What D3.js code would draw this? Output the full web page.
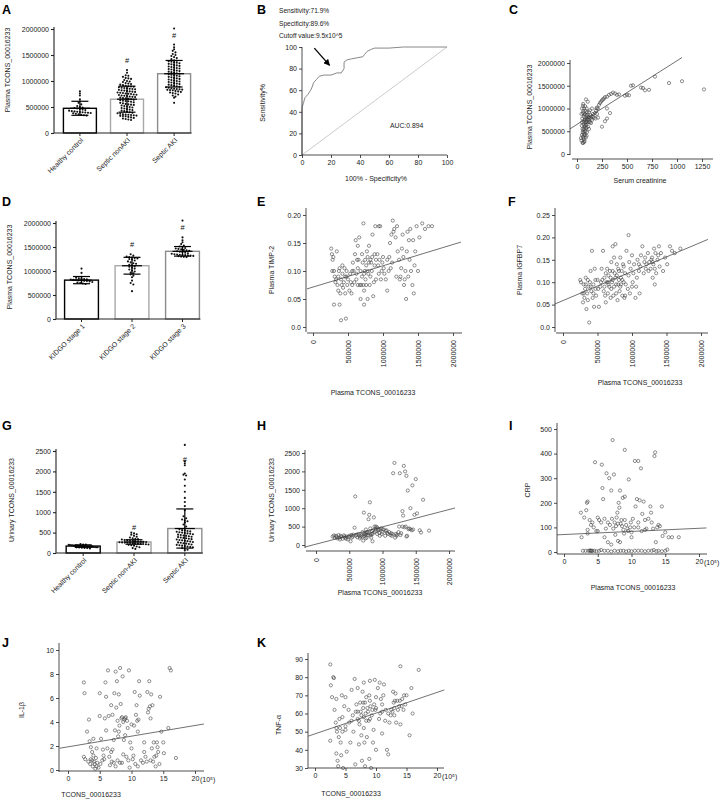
<!DOCTYPE html>
<meta charset="utf-8">
<script src="https://d3js.org/d3.v7.min.js"></script>
<style>
  body { margin: 0; background: #fff; }
  svg text { font-family: "Liberation Sans", Arial, sans-serif; }
</style>
<div id="fig"></div>
<script>
// ---------- data (thousands where noted) ----------
// A: plasma TCONS by group (thousands)
var aGroups = ["Healthy control", "Septic nonAKI", "Septic AKI"];
var aHC = [800,760,720,650,610,580,550,520,500,490,480,470,460,450,440,430,420,415,410,405,400,395,390,385,380,370,360,350,340,335];
var aNon = [1210,1160,1110,1100,1080,1060,1050,1040,1020,1000,990,980,960,950,940,930,920,910,900,895,890,880,870,865,860,850,845,840,830,820,815,810,800,795,790,780,775,770,760,755,750,740,735,730,720,715,710,700,695,690,680,670,665,660,650,640,630,620,615,610,600,590,580,570,560,550,545,540,530,520,510,500,490,480,470,460,450,440,430,420,410,400,390,380,370,360,355,350,345,340,335,330,325,320,310,300,290,280,270,260,250];
var aAKI = [2010,1700,1650,1610,1580,1550,1520,1500,1480,1460,1440,1420,1400,1390,1380,1370,1360,1350,1340,1330,1320,1310,1300,1290,1280,1270,1260,1250,1240,1230,1220,1210,1200,1190,1180,1170,1160,1150,1140,1130,1120,1110,1100,1090,1080,1070,1060,1050,1040,1030,1020,1010,1000,990,980,970,960,950,940,930,920,910,900,890,880,870,860,850,845,840,835,830,825,820,810,800,790,780,770,760,740,720,700,680,580];
var aMean = [475, 650, 1140];
var aSD = [135, 250, 255];
var aHash = [null, 1400, 1870];

// B: ROC curve (%)
var rocX = [0,0,1,2,4,6,7,8,10,12,15,20,24,27,29,29,31,34,38,42,43,45,48,50,60,70,100];
var rocY = [0,44,48,53,56,60,63,67,70,73,74,74,76,76,80,86,88,89,90,91,93,96,98,99,99,100,100];

// C: serum creatinine vs plasma TCONS (thousands)
var cPts = [[40,350],[45,300],[50,420],[50,700],[55,250],[55,550],[60,900],[60,380],[62,1100],[65,650],[65,450],[68,820],[70,320],[70,1000],[72,550],[75,750],[75,280],[78,880],[80,420],[80,620],[82,1050],[85,950],[85,500],[88,360],[90,700],[90,1200],[92,850],[95,580],[95,400],[98,780],[100,920],[100,480],[105,700],[108,1150],[110,600],[110,820],[115,750],[120,550],[125,800],[130,700],[135,850],[140,780],[150,750],[160,820],[170,800],[180,900],[185,780],[190,950],[195,1000],[200,1020],[210,1000],[220,1080],[230,1120],[240,1150],[250,1180],[260,1200],[270,1220],[280,1250],[300,1260],[320,1300],[340,1320],[360,1350],[380,1330],[400,1300],[420,1310],[480,1280],[500,1300],[520,1290],[540,1500],[560,1510],[640,1460],[660,1450],[680,1400],[720,1410],[780,1700],[920,1560],[1050,1600],[1270,1420],[250,600],[280,720],[300,780],[330,900],[300,1000],[50,1000],[60,1060],[45,880],[120,920],[130,960],[150,1000],[60,240],[70,260],[58,480],[62,520],[75,600],[85,680],[95,720],[105,760],[115,800],[210,800],[160,880],[140,680],[200,880],[48,620],[52,780],[66,350],[72,420],[78,500],[88,580],[92,640],[68,700],[80,760],[74,860],[64,940],[96,1000],[102,860],[120,700],[145,820]];
var cFit = [650, 1.4, -70, 1050];   // intercept, slope, x from, x to

// D: plasma TCONS by KDIGO stage (thousands)
var dGroups = ["KIDGO stage 1", "KIDGO stage 2", "KIDGO stage 3"];
var dS1 = [1050,960,880,860,850,840,830,825,820,815,810,805,800,795,790,780,770,760,750,740,730];
var dS2 = [1350,1320,1300,1290,1280,1270,1260,1250,1240,1220,1200,1180,1160,1150,1130,1120,1100,1090,1070,1050,1030,1010,990,970,950,930,900,870,800,750,720,580];
var dS3 = [2050,1700,1640,1600,1560,1530,1510,1500,1480,1470,1460,1450,1440,1430,1420,1410,1400,1390,1380,1370,1360,1350,1345,1340,1335,1330,1325,1320,1315,1310,1300,1295,1290];
var dMean = [810, 1110, 1410];
var dSD = [75, 175, 100];
var dHash = [null, 1560, 1900];

// E: plasma TCONS (thousands) vs TIMP-2
var ePts = [[260,0.14],[270,0.13],[280,0.12],[290,0.125],[275,0.10],[300,0.04],[310,0.09],[330,0.085],[340,0.135],[350,0.075],[360,0.065],[370,0.1],[380,0.105],[380,0.04],[390,0.06],[400,0.085],[400,0.012],[410,0.075],[420,0.095],[430,0.07],[440,0.08],[450,0.105],[460,0.06],[470,0.015],[480,0.09],[490,0.075],[500,0.085],[520,0.065],[540,0.08],[560,0.075],[580,0.1],[600,0.13],[610,0.155],[620,0.085],[640,0.145],[650,0.12],[660,0.16],[670,0.075],[680,0.05],[700,0.13],[710,0.115],[720,0.185],[730,0.065],[730,0.04],[740,0.1],[750,0.085],[760,0.11],[770,0.135],[780,0.125],[790,0.095],[800,0.145],[810,0.075],[820,0.12],[830,0.115],[840,0.1],[850,0.165],[860,0.055],[870,0.08],[880,0.13],[890,0.18],[900,0.085],[920,0.13],[930,0.11],[940,0.18],[950,0.12],[960,0.18],[970,0.085],[980,0.1],[1000,0.125],[1020,0.095],[1040,0.085],[1060,0.065],[1080,0.1],[1100,0.15],[1110,0.105],[1120,0.165],[1140,0.19],[1150,0.17],[1160,0.175],[1180,0.16],[1200,0.18],[1210,0.135],[1230,0.12],[1240,0.085],[1250,0.09],[1260,0.105],[1270,0.14],[1280,0.165],[1300,0.075],[1310,0.085],[1320,0.1],[1330,0.05],[1340,0.135],[1350,0.17],[1370,0.155],[1390,0.175],[1400,0.1],[1420,0.075],[1440,0.06],[1450,0.11],[1460,0.135],[1480,0.18],[1500,0.1],[1520,0.16],[1560,0.185],[1600,0.175],[1650,0.18],[1700,0.18],[620,0.095],[700,0.09],[760,0.075],[820,0.09],[880,0.11],[990,0.115],[1090,0.125],[640,0.105],[560,0.1],[480,0.1],[300,0.1],[320,0.08],[360,0.09],[420,0.11],[460,0.09],[530,0.095],[570,0.115],[590,0.08],[630,0.12],[680,0.1],[720,0.075],[745,0.12],[780,0.1],[800,0.115],[845,0.125],[900,0.12],[940,0.095],[1010,0.105],[1060,0.12],[1130,0.115],[1190,0.09],[1290,0.125],[1360,0.09],[1380,0.12],[1430,0.155],[730,0.095],[690,0.075],[640,0.075],[550,0.06],[780,0.05]];
var eFit = [0.0713, 0.000038, -86, 2114];

// F: plasma TCONS (thousands) vs IGFBP7
var fPts = [[250,0.105],[260,0.1],[280,0.075],[290,0.055],[300,0.095],[310,0.065],[320,0.085],[330,0.11],[340,0.04],[350,0.075],[360,0.06],[370,0.09],[380,0.01],[390,0.1],[400,0.125],[410,0.08],[420,0.17],[430,0.065],[440,0.095],[450,0.045],[460,0.13],[470,0.085],[480,0.07],[500,0.105],[520,0.045],[540,0.09],[560,0.13],[570,0.105],[580,0.17],[590,0.08],[600,0.11],[620,0.055],[630,0.1],[640,0.13],[650,0.075],[660,0.115],[670,0.09],[680,0.125],[690,0.065],[700,0.145],[710,0.1],[720,0.18],[730,0.07],[740,0.155],[750,0.12],[760,0.185],[770,0.095],[780,0.14],[790,0.06],[800,0.13],[810,0.105],[820,0.08],[830,0.155],[840,0.11],[850,0.125],[860,0.07],[870,0.14],[880,0.1],[890,0.065],[900,0.12],[920,0.17],[940,0.085],[950,0.205],[960,0.145],[970,0.075],[980,0.13],[1000,0.16],[1010,0.1],[1030,0.14],[1050,0.065],[1060,0.09],[1080,0.15],[1100,0.125],[1110,0.075],[1130,0.16],[1150,0.18],[1170,0.12],[1190,0.155],[1210,0.14],[1230,0.165],[1250,0.145],[1270,0.13],[1290,0.155],[1300,0.11],[1310,0.14],[1320,0.175],[1330,0.095],[1340,0.165],[1350,0.12],[1370,0.15],[1390,0.18],[1400,0.135],[1420,0.165],[1450,0.125],[1480,0.155],[1510,0.14],[1550,0.18],[1580,0.17],[1620,0.165],[1700,0.175],[1000,0.09],[1100,0.14],[900,0.07],[800,0.095],[700,0.085],[600,0.09],[1200,0.13],[1300,0.145],[760,0.11],[840,0.095],[720,0.105],[650,0.1],[300,0.075],[330,0.095],[360,0.105],[400,0.09],[440,0.075],[470,0.105],[510,0.085],[550,0.1],[610,0.07],[660,0.095],[690,0.11],[740,0.09],[780,0.115],[810,0.125],[860,0.105],[910,0.095],[950,0.115],[1020,0.12],[1070,0.11],[1120,0.135],[1180,0.145],[1240,0.125],[1280,0.15],[1330,0.13],[1380,0.16],[620,0.12],[720,0.125],[770,0.075],[830,0.09],[880,0.135]];
var fFit = [0.059, 0.000065, -116, 2100];

// G: urinary TCONS by group
var gGroups = ["Healthy control", "Septic non-AKI", "Septic AKI"];
var gHC = [220,210,205,200,195,190,188,185,182,180,178,175,172,170,168,165,162,160,158,155,152,150,148,145,142,140,138,135,130,125,120,110];
var gNon = [500,480,460,450,420,400,380,360,350,340,330,320,310,300,295,290,285,280,275,270,265,260,255,250,245,240,235,230,225,220,215,210,200,190,180,160,140,120,100];
var gAKI = [2650,2250,2200,2150,1950,1920,1900,1800,1650,1500,1350,1250,1150,1050,900,850,820,800,780,750,700,650,600,580,560,550,540,530,520,510,500,490,480,470,460,450,440,430,420,410,400,390,380,370,360,350,340,330,320,310,300,290,280,270,260,250,240,230,220,210,200,190,180,170,160,150,140,120,100,80,60];
var gMean = [170, 270, 600];
var gSD = [30, 55, 480];
var gHash = [null, 640, 2300];

// H: plasma TCONS (thousands) vs urinary TCONS
var hPts = [[250,230],[280,200],[300,250],[320,180],[340,270],[360,150],[380,220],[400,170],[420,260],[440,200],[460,230],[480,150],[500,250],[520,100],[540,200],[560,280],[580,470],[590,1320],[600,250],[620,210],[640,300],[660,180],[680,260],[700,350],[710,120],[720,880],[730,250],[740,300],[750,420],[760,200],[770,350],[780,270],[790,700],[800,820],[810,1160],[815,450],[820,300],[830,200],[840,380],[850,100],[860,400],[870,750],[880,500],[900,450],[920,300],[940,400],[960,250],[980,450],[1000,350],[1020,420],[1040,250],[1060,400],[1080,300],[1100,350],[1120,270],[1140,250],[1160,1950],[1180,2230],[1190,200],[1200,300],[1220,280],[1240,350],[1260,1950],[1280,320],[1300,920],[1310,800],[1320,2150],[1340,2000],[1350,500],[1360,1880],[1370,250],[1380,1480],[1400,450],[1420,1000],[1440,400],[1450,1620],[1460,420],[1480,820],[1500,1790],[1520,860],[1560,400],[1580,340],[1610,1230],[1700,390],[350,200],[450,170],[550,230],[650,260],[750,280],[850,300],[950,330],[1050,380],[1150,300],[1250,500],[1300,500],[1330,480],[1360,230],[1420,430],[900,500],[920,480],[960,420],[1000,430],[700,230],[760,320],[820,260],[880,350],[270,260],[310,220],[370,250],[430,230],[490,210],[530,270],[610,280],[670,220],[720,300],[745,180],[790,330],[835,300],[895,380],[935,420],[990,300],[1070,330],[1130,320],[1210,250],[1270,270],[1390,430]];
var hFit = [23, 0.47, -165, 2090];

// I: plasma TCONS (x10^5) vs CRP
var iPts = [[2.5,160],[2.6,60],[3,140],[3.3,170],[3.4,200],[3.5,205],[3.5,75],[3.5,90],[3.8,130],[4,110],[4.2,120],[4.4,100],[4.6,365],[4.8,85],[5,140],[5.2,130],[5.5,120],[5.6,355],[5.8,215],[5.7,260],[6,135],[6.2,95],[6.3,320],[6.5,120],[6.7,300],[6.8,110],[7,250],[7.1,135],[7.2,455],[7.3,95],[7.4,315],[7.5,120],[7.6,70],[7.8,140],[8,115],[8.1,200],[8.2,180],[8.3,250],[8.5,130],[8.7,220],[8.8,90],[9,415],[9,225],[9.2,110],[9.5,85],[9.6,295],[9.8,100],[10,80],[10.2,135],[10.5,370],[10.6,185],[10.8,215],[11,100],[11,370],[11.2,210],[11.4,340],[11.5,85],[11.6,155],[11.8,205],[12.2,95],[12.5,135],[12.8,185],[12.9,160],[13,120],[13.4,390],[13.5,405],[13.6,40],[13.8,100],[14,110],[14.2,105],[14.5,185],[14.6,65],[15,80],[15.5,60],[16,60],[17,60],[6.5,40],[7,30],[8,45],[8.3,40],[6,60],[5,85],[9,130],[10,60],[11,120],[12,90],[2.8,5],[3.2,5],[3.6,5],[3.8,5],[4,5],[4.2,5],[4.5,5],[4.8,3],[5.2,5],[5.5,8],[6,5],[6.5,5],[7,2],[7.5,5],[8,3],[8.4,5],[8.8,5],[9.2,2],[9.6,5],[10,3],[10.5,5],[11,5],[11.5,5],[12,3],[12.5,5],[13,5],[13.3,8],[13.7,3],[14,5],[14.5,3],[15,5],[15.3,10],[3.9,6],[4.1,4],[7.7,105],[8.4,115],[8.9,75],[9.4,95],[7.9,160],[8.6,105],[9.9,120],[10.4,100],[12,130],[13.2,95]];
var iFit = [71, 1.27, -1.04, 21.1];

// J: TCONS (x10^5) vs IL-1beta
var jPts = [[2.5,7.3],[2.6,6.4],[2.5,1.1],[2.7,0.9],[3,3.2],[3.2,0.7],[3.3,4.2],[3.4,2.4],[3.5,0.5],[3.6,1.9],[3.8,0.8],[3.9,0.3],[4,1.2],[4.2,0.5],[4.3,0.1],[4.5,1.8],[4.6,0.6],[4.8,0.2],[5,4.5],[5,6.4],[5.2,2.6],[5.4,0.8],[5.6,1.2],[5.8,4.3],[5.9,7.3],[6,6.1],[6.2,1.8],[6.3,8.3],[6.4,4.5],[6.5,1.1],[6.6,0.4],[6.8,5.4],[7,4.6],[7,1.7],[7.2,0.6],[7.3,6.4],[7.4,3.3],[7.5,8.2],[7.6,5.2],[7.7,7.4],[7.8,0.8],[7.9,2.8],[8,6.3],[8.1,3.7],[8.2,8.5],[8.2,0.6],[8.3,5.5],[8.5,4.4],[8.6,7.8],[8.7,1.3],[8.8,2.5],[8.9,4.2],[9,2.9],[9.2,1.1],[9.4,3.5],[9.6,8.3],[9.7,0.2],[9.8,2.3],[10,1.8],[10.2,0.9],[10.4,3.7],[10.5,6.5],[10.7,4.6],[10.8,5.4],[10.9,4.1],[11,3.2],[11.2,7.4],[11.3,6.2],[11.5,0.8],[11.8,0.6],[12,2.3],[12.2,1.1],[12.5,6.5],[12.6,4.8],[12.8,7.4],[12.9,5.3],[13,4.3],[13.1,6.3],[13.2,1.8],[13.4,0.7],[13.6,1.1],[13.8,0.3],[14,2.3],[14.2,1.5],[14.4,0.5],[14.5,6.1],[14.7,3.2],[15,2.3],[15.1,1.4],[15.8,3.5],[16,8.5],[16.2,8.3],[17,1],[5.5,1.7],[6.8,1.5],[7.5,0.3],[8.5,0.6],[9.5,0.8],[11,0.3],[12,1.5],[13,0.8],[4.5,0.3],[3.8,1.5],[7.2,2.5],[8,3.2],[9,4.3],[10,3.8],[6,3.3],[4,2.6],[3.6,0.9],[4.1,0.7],[4.4,1],[5.1,0.5],[5.7,0.9],[6.9,0.7],[7.8,4.1],[8.4,4.3],[8.7,4],[9.1,4.4],[9.3,4.1],[10.3,1.2],[11.1,4.2],[12.7,5.1],[13.3,5.4],[13.5,2.3],[14.1,1.9],[13.9,1.2],[12.4,0.7],[10.6,0.5]];
var jFit = [1.93, 0.089, -1.31, 21.4];

// K: TCONS (x10^5) vs TNF-alpha
var kPts = [[2.5,87],[2.6,75.5],[2.5,45],[2.8,69],[3,80],[3.1,79.5],[3.2,62],[3.5,68],[3.4,55],[3.6,50],[3.5,38],[3.7,34],[3.8,31],[3.9,47],[4,57],[4.1,52],[4.2,44],[4.3,37],[4.4,70],[4.5,58],[4.6,30],[4.8,64],[5,51],[5,69],[5.2,39],[5.5,62],[5.6,55],[5.8,44],[6,73],[6.2,59],[6.3,50],[6.5,79],[6.6,32],[6.8,65],[7,57],[7,74],[7.2,43],[7.3,54],[7.5,61],[7.6,48],[7.7,34],[7.8,72],[7.9,66],[8,52],[8,77],[8.1,44],[8.2,31],[8.3,60],[8.4,69],[8.5,47],[8.6,63],[8.8,56],[8.9,35],[9,67],[9,78],[9.2,30],[9.3,59],[9.5,44],[9.6,51],[9.8,78.5],[9.9,62],[10,69],[10,40],[10.3,74],[10.5,57],[10.6,77],[10.8,68],[11,49],[11,61],[11.2,70],[11.3,76],[11.5,56],[11.8,40],[12,37.5],[12.2,55],[12.5,62],[12.8,72],[12.9,66],[13,59],[13.2,71],[13.3,55],[13.5,67],[13.8,64],[14,54],[14,86],[14.3,68],[14.5,62],[14.6,70],[14.8,65],[15,70],[15.5,48],[15.8,74],[16,60],[17,84],[6,56],[7,61],[8,58],[9,57],[10,63],[11,65],[12,60],[13,63],[5,53],[4.5,50],[3.5,52],[7.4,66],[7.6,59],[7.9,63],[8.2,66],[8.7,61],[9.1,64],[9.4,62],[8.4,56],[7.2,56],[6.7,61],[12.4,59],[12.7,61],[13.1,67],[13.6,62],[13.9,67],[14.2,64],[11.6,62],[10.7,60],[9.7,65],[8.9,70]];
var kFit = [48.8, 1.14, -1.1, 21.2];

// ---------- drawing ----------
var FONT = "Liberation Sans, Arial, sans-serif";
var INK = "#222";

var svg = d3.select("#fig").append("svg")
  .attr("width", 722).attr("height", 800)
  .style("background", "#fff");

function letter(t, x, y) {
  svg.append("text").attr("x", x).attr("y", y)
    .attr("font-size", 12.5).attr("font-weight", "bold").attr("fill", "#000").text(t);
}

function label(t, x, y, rot, size) {
  svg.append("text")
    .attr("transform", "translate(" + x + "," + y + ")" + (rot ? "rotate(-90)" : ""))
    .attr("text-anchor", "middle").attr("dy", rot ? "0.35em" : 0)
    .attr("font-size", size || 7).attr("fill", INK).text(t);
}

function styleAxis(a) {
  a.attr("font-family", FONT).attr("font-size", 7);
  a.select(".domain").remove();
  a.selectAll(".tick line").attr("stroke", INK);
  a.selectAll(".tick text").attr("fill", INK);
}

function yAxis(s, x, ticks, fmt, ext, w) {
  var a = svg.append("g").attr("transform", "translate(" + x + ",0)")
    .call(d3.axisLeft(s).tickValues(ticks).tickFormat(fmt).tickSize(3).tickPadding(2));
  styleAxis(a);
  a.append("line").attr("y1", ext[0]).attr("y2", ext[1]).attr("stroke", INK).attr("stroke-width", w || 0.8);
  a.selectAll(".tick line").attr("stroke-width", w || 0.8);
  return a;
}

function xAxis(s, y, ticks, fmt, ext, rotate, w) {
  var a = svg.append("g").attr("transform", "translate(0," + y + ")")
    .call(d3.axisBottom(s).tickValues(ticks).tickFormat(fmt).tickSize(3).tickPadding(2));
  styleAxis(a);
  a.append("line").attr("x1", ext[0]).attr("x2", ext[1]).attr("stroke", INK).attr("stroke-width", w || 0.8);
  a.selectAll(".tick line").attr("stroke-width", w || 0.8);
  if (rotate) {
    a.selectAll(".tick text")
      .attr("transform", "rotate(-90)")
      .attr("text-anchor", "end")
      .attr("x", -7).attr("y", 0).attr("dy", "0.35em");
  }
  return a;
}

// beeswarm-like rows for the dot plots, squeezed to stay inside the bar
function swarm(vals, y, cx, bw) {
  var rows = d3.group(vals, function(v) { return Math.round(y(v) / 2.6); });
  var out = [];
  var room = bw - 5;
  rows.forEach(function(r) {
    var step = Math.min(2.7, r.length > 1 ? room / (r.length - 1) : 0);
    r.forEach(function(v, i) { out.push([cx + (i - (r.length - 1) / 2) * step, y(v)]); });
  });
  return out;
}

function dotBarPanel(groups, sets, means, sds, hashes, y, xRange, pad, yTicks, yFmt, yExt, colors) {
  var x = d3.scaleBand().domain(groups).range(xRange).paddingInner(pad[0]).paddingOuter(pad[1]);
  var g = svg.append("g");
  groups.forEach(function(name, i) {
    var x0 = x(name), bw = x.bandwidth(), cx = x0 + bw / 2;
    g.append("rect").attr("x", x0).attr("width", bw)
      .attr("y", y(means[i])).attr("height", y(0) - y(means[i]))
      .attr("fill", "#fff").attr("stroke", colors[i]).attr("stroke-width", 1.4);
    g.append("g").selectAll("circle").data(swarm(sets[i], y, cx, bw)).enter().append("circle")
      .attr("cx", function(d) { return d[0]; }).attr("cy", function(d) { return d[1]; })
      .attr("r", 1.05).attr("fill", "#111");
    var lo = y(Math.max(0, means[i] - sds[i])), hi = y(means[i] + sds[i]);
    g.append("line").attr("x1", cx).attr("x2", cx).attr("y1", lo).attr("y2", hi).attr("stroke", "#000").attr("stroke-width", 1.2);
    [lo, hi].forEach(function(yy) {
      g.append("line").attr("x1", cx - 8.5).attr("x2", cx + 8.5).attr("y1", yy).attr("y2", yy).attr("stroke", "#000").attr("stroke-width", 1.2);
    });
    g.append("line").attr("x1", cx - 10).attr("x2", cx + 10).attr("y1", y(means[i])).attr("y2", y(means[i])).attr("stroke", "#000").attr("stroke-width", 1.2);
    if (hashes[i] != null) {
      g.append("text").attr("x", cx).attr("y", y(hashes[i])).attr("dy", "0.35em")
        .attr("text-anchor", "middle").attr("font-size", 7.5).attr("fill", "#111").text("#");
    }
  });
  yAxis(y, xRange[0], yTicks, yFmt, yExt, 1.1);
  var xa = svg.append("g").attr("transform", "translate(0," + y(0) + ")");
  xa.append("line").attr("x1", xRange[0]).attr("x2", x(groups[2]) + x.bandwidth() + 1).attr("stroke", INK).attr("stroke-width", 1.1);
  groups.forEach(function(name) {
    var cx = x(name) + x.bandwidth() / 2;
    xa.append("line").attr("x1", cx).attr("x2", cx).attr("y1", 0).attr("y2", 3).attr("stroke", INK).attr("stroke-width", 1);
    xa.append("text").attr("transform", "translate(" + (cx + 2) + ",6)rotate(-45)")
      .attr("text-anchor", "end").attr("dy", "0.35em").attr("font-size", 7).attr("fill", INK).text(name);
  });
}

function scatterPanel(pts, x, y, fit) {
  var g = svg.append("g");
  g.selectAll("circle").data(pts).enter().append("circle")
    .attr("cx", function(d) { return x(d[0]); }).attr("cy", function(d) { return y(d[1]); })
    .attr("r", 1.6).attr("fill", "none").attr("stroke", "#444").attr("stroke-width", 0.6);
  g.append("line")
    .attr("x1", x(fit[2])).attr("y1", y(fit[0] + fit[1] * fit[2]))
    .attr("x2", x(fit[3])).attr("y2", y(fit[0] + fit[1] * fit[3]))
    .attr("stroke", "#333").attr("stroke-width", 0.7);
}

function kFmt(d) { return String(d * 1000); }
function fmt2(d) { return d === 0 ? "0.0" : d.toFixed(2); }

// ---- A ----
letter("A", 2, 13.5);
var yA = d3.scaleLinear().domain([0, 2000]).range([133, 29]);
dotBarPanel(aGroups, [aHC, aNon, aAKI], aMean, aSD, aHash, yA, [54, 200], [0.3, 0.2],
  [0, 500, 1000, 1500, 2000], kFmt, [27, 133], ["#000", "#a8a8a8", "#8c8c8c"]);
label("Plasma TCONS_00016233", 8, 70, true);

// ---- B ----
letter("B", 257, 13.5);
svg.append("text").attr("x", 279).attr("y", 12.7).attr("font-size", 6.6).attr("fill", INK).text("Sensitivity:71.9%");
svg.append("text").attr("x", 279).attr("y", 26).attr("font-size", 6.6).attr("fill", INK).text("Specificity:89.6%");
svg.append("text").attr("x", 279).attr("y", 37.7).attr("font-size", 6.6).attr("fill", INK).text("Cutoff value:9.5x10^5");
var xB = d3.scaleLinear().domain([0, 100]).range([302, 447]);
var yB = d3.scaleLinear().domain([0, 100]).range([155, 47]);
svg.append("line").attr("x1", xB(0)).attr("y1", yB(0)).attr("x2", xB(100)).attr("y2", yB(100))
  .attr("stroke", "#b5b5b5").attr("stroke-width", 0.7);
svg.append("path").datum(d3.zip(rocX, rocY))
  .attr("d", d3.line().x(function(d) { return xB(d[0]); }).y(function(d) { return yB(d[1]); }))
  .attr("fill", "none").attr("stroke", "#7a7a7a").attr("stroke-width", 0.9);
yAxis(yB, 302, [0, 20, 40, 60, 80, 100], d3.format("d"), [47, 155]);
xAxis(xB, 155, [0, 20, 40, 60, 80, 100], d3.format("d"), [302, 447]);
svg.append("defs").append("marker").attr("id", "arr").attr("viewBox", "0 0 10 10")
  .attr("refX", 9).attr("refY", 5).attr("markerWidth", 5).attr("markerHeight", 5).attr("orient", "auto")
  .append("path").attr("d", "M0,0L10,5L0,10z").attr("fill", "#000");
svg.append("line").attr("x1", xB(8.5)).attr("y1", yB(99)).attr("x2", xB(19)).attr("y2", yB(83))
  .attr("stroke", "#000").attr("stroke-width", 1.3).attr("marker-end", "url(#arr)");
svg.append("text").attr("x", 390).attr("y", 128.3).attr("font-size", 6.8).attr("fill", INK).text("AUC:0.894");
label("Sensitivity%", 263, 103, true);
label("100% - Specificity%", 376, 181);

// ---- C ----
letter("C", 509, 13.5);
var xC = d3.scaleLinear().domain([0, 1250]).range([577, 702]);
var yC = d3.scaleLinear().domain([0, 2000]).range([154, 63]);
scatterPanel(cPts, xC, yC, cFit);
yAxis(yC, 570, [0, 500, 1000, 1500, 2000], kFmt, [60, 155]);
xAxis(xC, 159, [0, 250, 500, 750, 1000, 1250], d3.format("d"), [572, 713]);
label("Plasma TCONS_00016233", 530, 107, true);
label("Serum creatinine", 640, 183);

// ---- D ----
letter("D", 2, 205.5);
var yD = d3.scaleLinear().domain([0, 2000]).range([319, 223]);
dotBarPanel(dGroups, [dS1, dS2, dS3], dMean, dSD, dHash, yD, [56, 208], [0.33, 0.17],
  [0, 500, 1000, 1500, 2000], kFmt, [221, 319], ["#000", "#a8a8a8", "#8c8c8c"]);
label("Plasma TCONS_00016233", 10, 267, true);

// ---- E ----
letter("E", 257, 205.5);
var xE = d3.scaleLinear().domain([0, 2000]).range([313, 453]);
var yE = d3.scaleLinear().domain([0, 0.2]).range([327, 215]);
scatterPanel(ePts, xE, yE, eFit);
yAxis(yE, 306, [0, 0.05, 0.1, 0.15, 0.2], fmt2, [208, 332]);
xAxis(xE, 333, [0, 500, 1000, 1500, 2000], kFmt, [307, 462], true);
label("Plasma TIMP-2", 272, 270, true);
label("Plasma TCONS_00016233", 373, 395);

// ---- F ----
letter("F", 508, 205.5);
var xF = d3.scaleLinear().domain([0, 2000]).range([563, 701]);
var yF = d3.scaleLinear().domain([0, 0.25]).range([327, 215]);
scatterPanel(fPts, xF, yF, fFit);
yAxis(yF, 555, [0, 0.05, 0.1, 0.15, 0.2, 0.25], fmt2, [208, 332]);
xAxis(xF, 333, [0, 500, 1000, 1500, 2000], kFmt, [556, 708], true);
label("Plasma IGFBP7", 520, 270, true);
label("Plasma TCONS_00016233", 640, 385);

// ---- G ----
letter("G", 2, 430);
var yG = d3.scaleLinear().domain([0, 2500]).range([553, 451]);
dotBarPanel(gGroups, [gHC, gNon, gAKI], gMean, gSD, gHash, yG, [56, 212], [0.33, 0.2],
  [0, 500, 1000, 1500, 2000, 2500], d3.format("d"), [449, 553], ["#000", "#a0a0a0", "#8c8c8c"]);
label("Urinary TCONS_00016233", 12, 500, true);

// ---- H ----
letter("H", 257, 429.5);
var xH = d3.scaleLinear().domain([0, 2000]).range([316, 449]);
var yH = d3.scaleLinear().domain([0, 2500]).range([545, 453]);
scatterPanel(hPts, xH, yH, hFit);
yAxis(yH, 305, [0, 500, 1000, 1500, 2000, 2500], d3.format("d"), [450, 548]);
xAxis(xH, 551, [0, 500, 1000, 1500, 2000], kFmt, [306, 455], true);
label("Urinary TCONS_00016233", 272, 500, true);
label("Plasma TCONS_00016233", 380, 595);

// ---- I ----
letter("I", 509, 429.5);
var xI = d3.scaleLinear().domain([0, 20]).range([564, 699]);
var yI = d3.scaleLinear().domain([0, 500]).range([552, 429]);
scatterPanel(iPts, xI, yI, iFit);
yAxis(yI, 557, [0, 100, 200, 300, 400, 500], d3.format("d"), [423, 554]);
xAxis(xI, 554, [0, 5, 10, 15, 20], d3.format("d"), [557, 707]);
svg.append("text").attr("x", xI(20) + 5).attr("y", 565).attr("font-size", 7).attr("fill", INK).text("(10⁵)");
label("CRP", 528, 490, true);
label("Plasma TCONS_00016233", 633, 590);

// ---- J ----
letter("J", 2, 647);
var xJ = d3.scaleLinear().domain([0, 20]).range([68, 195]);
var yJ = d3.scaleLinear().domain([0, 10]).range([770, 650]);
scatterPanel(jPts, xJ, yJ, jFit);
yAxis(yJ, 59, [0, 2, 4, 6, 8, 10], d3.format("d"), [643, 772]);
xAxis(xJ, 771, [0, 5, 10, 15, 20], d3.format("d"), [59, 204]);
svg.append("text").attr("x", xJ(20) + 5).attr("y", 782).attr("font-size", 7).attr("fill", INK).text("(10⁵)");
label("IL-1β", 22, 710, true);
label("TCONS_00016233", 91, 797);

// ---- K ----
letter("K", 257, 647);
var xK = d3.scaleLinear().domain([0, 20]).range([315, 437]);
var yK = d3.scaleLinear().domain([30, 90]).range([768, 659]);
scatterPanel(kPts, xK, yK, kFit);
yAxis(yK, 308, [30, 40, 50, 60, 70, 80, 90], d3.format("d"), [653, 768]);
xAxis(xK, 768, [0, 5, 10, 15, 20], d3.format("d"), [308, 444]);
svg.append("text").attr("x", xK(20) + 5).attr("y", 779).attr("font-size", 7).attr("fill", INK).text("(10⁵)");
label("TNF-α", 279, 725, true);
label("TCONS_00016233", 351, 796);
</script>
